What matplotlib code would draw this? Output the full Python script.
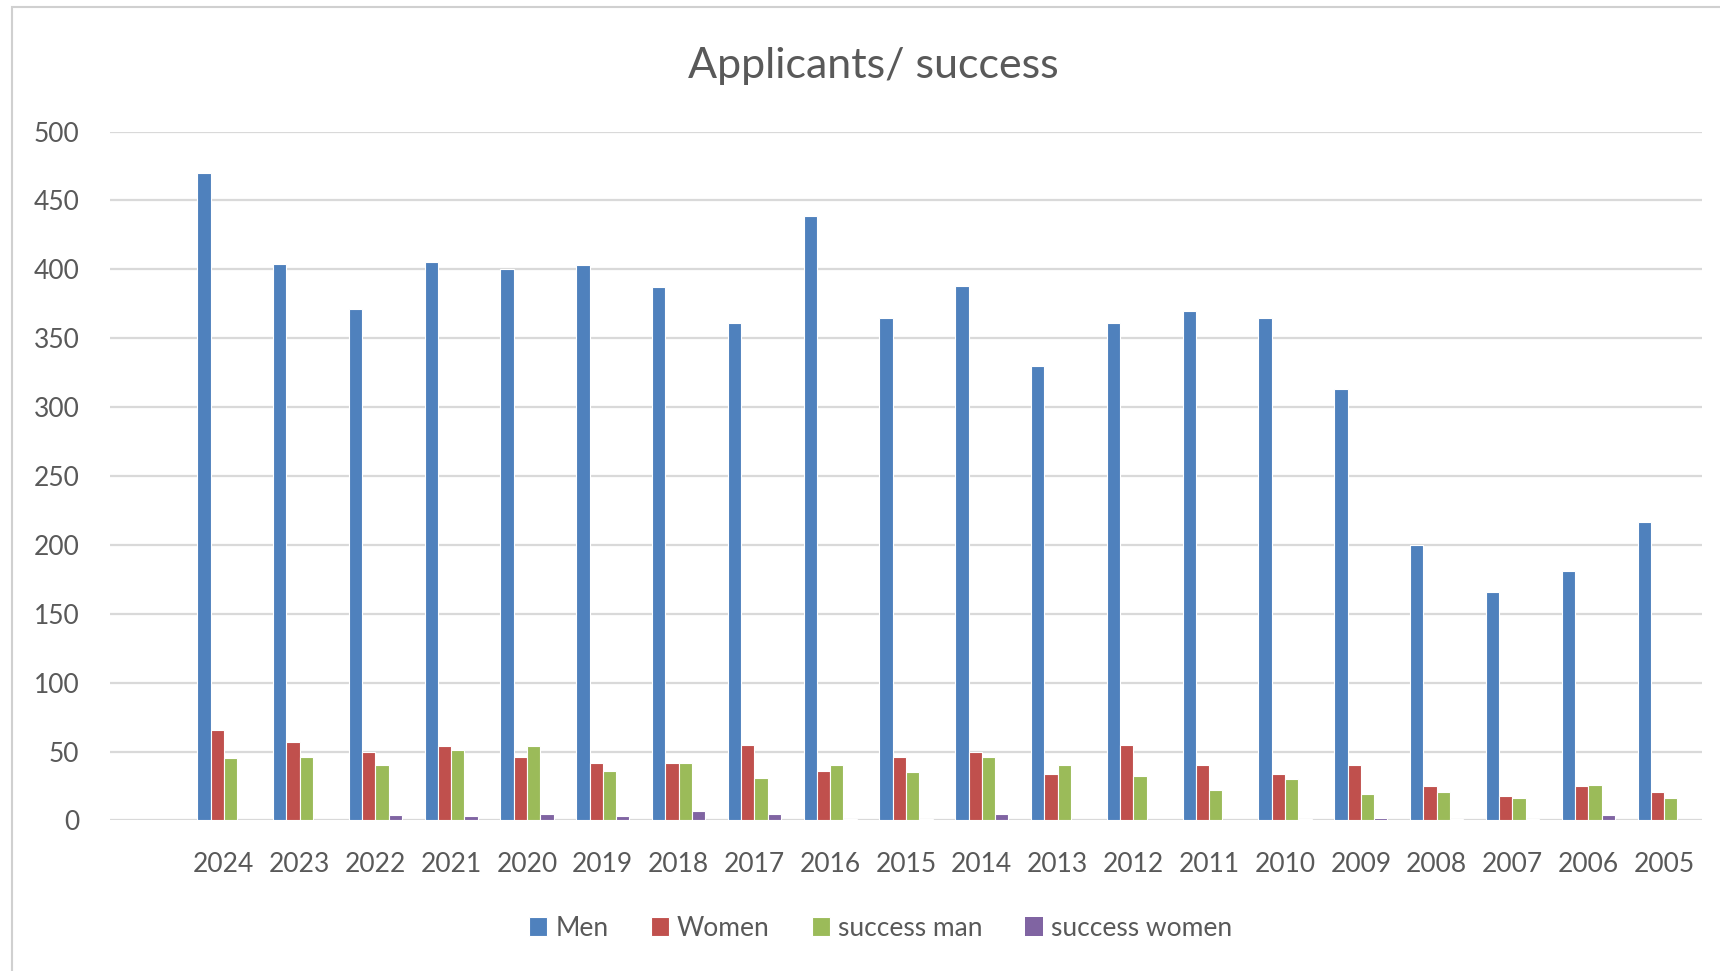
import numpy as np
import matplotlib.pyplot as plt
from matplotlib.patches import Rectangle

# data
years = ['2024', '2023', '2022', '2021', '2020', '2019', '2018', '2017', '2016', '2015',
         '2014', '2013', '2012', '2011', '2010', '2009', '2008', '2007', '2006', '2005']
men = [470, 404, 371, 405, 400, 403, 387, 361, 439, 365,
       388, 330, 361, 370, 365, 313, 200, 166, 181, 217]
women = [66, 57, 50, 54, 46, 42, 42, 55, 36, 46,
         50, 34, 55, 40, 34, 40, 25, 18, 25, 21]
success_man = [45, 46, 40, 51, 54, 36, 42, 31, 40, 35,
               46, 40, 32, 22, 30, 19, 21, 16, 26, 16]
success_women = [0, 0, 4, 3, 5, 3, 7, 5, 1, 1,
                 5, 0, 0, 0, 1, 2, 1, 1, 4, 0]

series = [('Men', men, '#4F81BD'),
          ('Women', women, '#C0504D'),
          ('success man', success_man, '#9BBB59'),
          ('success women', success_women, '#8064A2')]

TEXT = '#595959'
plt.rcParams['font.family'] = ['Lato', 'DejaVu Sans']

fig = plt.figure(figsize=(17.2, 9.71), dpi=100)
ax = fig.add_axes([0.064, 0.155, 0.9255, 0.7095])

x = np.arange(len(years))
w = 0.175
for i, (name, vals, color) in enumerate(series):
    # no white outline on empty bars, otherwise it marks the baseline
    edges = ['white' if v > 0 else 'none' for v in vals]
    ax.bar(x + (i - 1.5) * w, vals, width=w, color=color, edgecolor=edges,
           linewidth=0.8, label=name, zorder=3)

ax.set_xlim(-1.5, len(years) - 0.5)
ax.set_ylim(0, 500)
ax.set_yticks(np.arange(0, 501, 50))
ax.set_xticks(x)
ax.set_xticklabels(years)
ax.tick_params(axis='both', length=0, labelsize=19, labelcolor=TEXT)
ax.tick_params(axis='y', pad=22)
ax.tick_params(axis='x', pad=23)
ax.grid(axis='y', color='#D9D9D9', linewidth=1.6, zorder=0)
for s in ax.spines.values():
    s.set_visible(False)

fig.text(0.508, 0.9325, 'Applicants/ success', ha='center', va='center',
         fontsize=31, color=TEXT)

fig.legend(loc='center', bbox_to_anchor=(0.512, 0.044), ncol=4, frameon=False,
           fontsize=19, labelcolor=TEXT, handlelength=0.7, handleheight=0.7,
           handletextpad=0.3, columnspacing=1.6)

# chart area border
fig.patches.append(Rectangle((0.007, -0.05), 1.1, 1.043,
                             transform=fig.transFigure, fill=False,
                             edgecolor='#D0D0D0', linewidth=1.5))

fig.savefig('out.png', dpi=100)
